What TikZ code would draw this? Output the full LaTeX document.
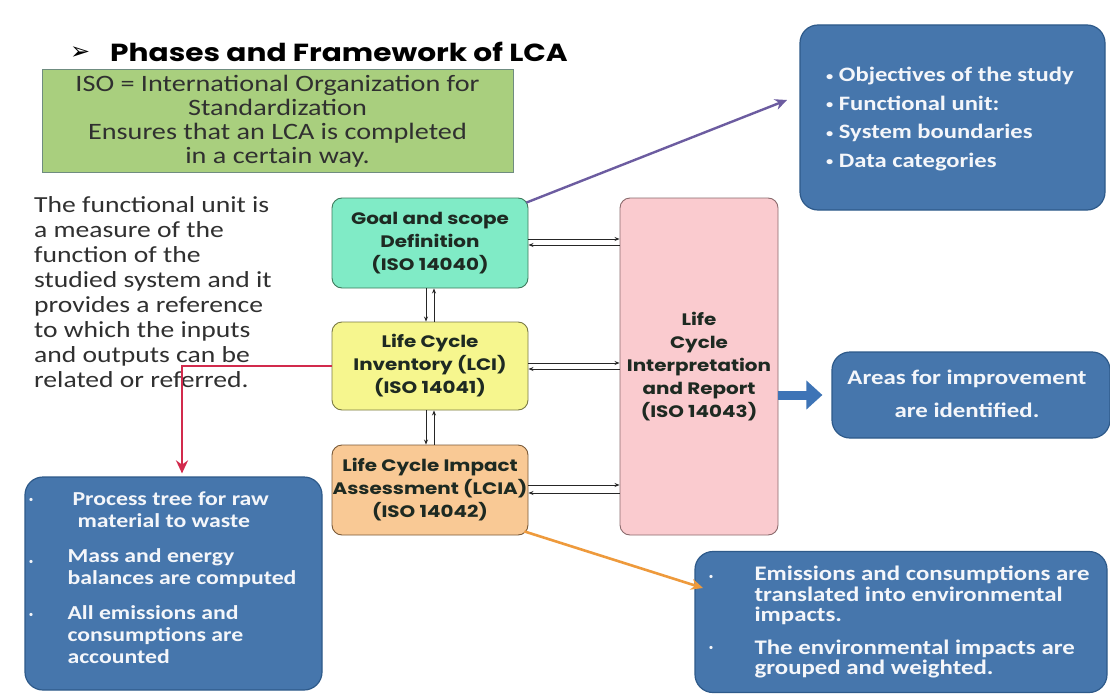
\documentclass[tikz,border=0pt]{standalone}
\usepackage{fontspec}
\setmainfont{Carlito}
\newfontfamily\wide{Carlito}[FakeStretch=1.2]
\newfontfamily\gothic{Poppins}[FakeStretch=1.2]
\newfontfamily\dejavu{DejaVu Sans}
\usetikzlibrary{arrows.meta,calc}
\newcommand\smallbul{{\fontsize{12}{12}\selectfont\raisebox{1.5pt}{•}}}
\definecolor{boxblue}{HTML}{4676AC}
\definecolor{boxblueedge}{HTML}{2E5A8A}
\definecolor{goalfill}{HTML}{80EBC6}
\definecolor{goaledge}{HTML}{3E7A5C}
\definecolor{lcifill}{HTML}{F6F68E}
\definecolor{lciedge}{HTML}{7A7A45}
\definecolor{lciafill}{HTML}{F9C995}
\definecolor{lciaedge}{HTML}{7A5A38}
\definecolor{interpfill}{HTML}{FACBCF}
\definecolor{interpedge}{HTML}{8A6A6C}
\definecolor{isogreen}{HTML}{A9CF7E}
\definecolor{isoedge}{HTML}{6F8C80}
\definecolor{redline}{HTML}{D22A4C}
\definecolor{purpleline}{HTML}{6C5CA0}
\definecolor{orangeline}{HTML}{EE9A3C}
\definecolor{arrowblue}{HTML}{3E74B6}
\definecolor{textwhite}{HTML}{F4F6FA}
\definecolor{textgray}{HTML}{303030}
\definecolor{phasetext}{HTML}{1E2A22}
\begin{document}
\begin{tikzpicture}[x=1pt,y=-1pt,
  phase/.style={rounded corners=10pt, line width=0.9pt, align=center, inner sep=0pt,
    text=phasetext, font=\gothic\bfseries\fontsize{16.6}{23}\selectfont},
  bluebox/.style={draw=boxblueedge, fill=boxblue, rounded corners=18pt, line width=1.2pt, inner sep=0pt},
  bluetext/.style={text=textwhite, align=left, inner sep=0pt},
  flow/.style={draw=black!85, line width=0.8pt, -{Stealth[length=5pt,width=4pt]}},
  bulletdot/.style={text=textwhite, inner sep=0pt, font=\fontsize{9}{9}\selectfont}
]
\useasboundingbox[fill=white] (0,0) rectangle (1110,698);

% title
\node[anchor=west, inner sep=0pt, font=\dejavu\fontsize{24}{24}\selectfont] (tbullet) at (70,53) {➢};
\node[anchor=west, inner sep=0pt, font=\gothic\bfseries\fontsize{24.7}{25}\selectfont] (title) at (110,52) {Phases and Framework of LCA};

% ISO box
\node[draw=isoedge, fill=isogreen, line width=1pt, minimum width=471pt, minimum height=102pt,
  inner sep=0pt, align=center, text=textgray, font=\wide\fontsize{23.5}{24}\selectfont] (iso) at (277.5,121)
  {ISO = International Organization for\\Standardization\\Ensures that an LCA is completed\\in a certain way.};

% functional unit paragraph
\node[anchor=north west, align=left, inner sep=0pt, text=textgray, font=\wide\fontsize{23}{25.1}\selectfont] (fu) at (34,196)
  {The functional unit is\\a measure of the\\function of the\\studied system and it\\provides a reference\\to which the inputs\\and outputs can be\\related or referred.};

% phases
\node[phase, draw=goaledge, fill=goalfill, minimum width=196pt, minimum height=90pt] (goal) at (430,243)
  {Goal and scope\\Definition\\(ISO 14040)};
\node[phase, draw=lciedge, fill=lcifill, minimum width=196pt, minimum height=88pt] (lci) at (430,366)
  {Life Cycle\\Inventory (LCI)\\(ISO 14041)};
\node[phase, draw=lciaedge, fill=lciafill, minimum width=196pt, minimum height=90pt] (lcia) at (430,490)
  {Life Cycle Impact\\Assessment (LCIA)\\(ISO 14042)};
\node[phase, draw=interpedge, fill=interpfill, minimum width=158pt, minimum height=337pt] (interp) at (699,366.5)
  {Life\\Cycle\\Interpretation\\and Report\\(ISO 14043)};

% blue boxes
\node[bluebox, minimum width=305pt, minimum height=185pt] (obj) at (952.5,117.5) {};
\node[bluetext, anchor=west, font=\wide\bfseries\fontsize{20.5}{28.5}\selectfont] (objtext) at (826,119)
  {\smallbul\ Objectives of the study\\\smallbul\ Functional unit:\\\smallbul\ System boundaries\\\smallbul\ Data categories};

\node[bluebox, minimum width=278pt, minimum height=86pt] (areas) at (971,395) {};
\node[bluetext, align=center, font=\wide\bfseries\fontsize{20.7}{33}\selectfont] (areastext) at (967,394)
  {Areas for improvement\\are identified.};

\node[bluebox, minimum width=297pt, minimum height=213pt] (bl) at (173.5,583.5) {};
\node[bluetext, font=\wide\bfseries\fontsize{19.8}{22}\selectfont] (bltext) at (182,578)
  {\hspace*{5pt}Process tree for raw\\\hspace*{10pt}material to waste\\[13pt]Mass and energy\\balances are computed\\[13pt]All emissions and\\consumptions are\\accounted};
\node[bulletdot] (blb1) at (31,500) {•};
\node[bulletdot] (blb2) at (31,562) {•};
\node[bulletdot] (blb3) at (31,615) {•};

\node[bluebox, minimum width=412pt, minimum height=141pt] (br) at (901,622) {};
\node[bluetext, font=\wide\bfseries\fontsize{20.7}{20.5}\selectfont] (brtext) at (922,622)
  {Emissions and consumptions are\\translated into environmental\\impacts.\\[12pt]The environmental impacts are\\grouped and weighted.};
\node[bulletdot] (brb1) at (711,577) {•};
\node[bulletdot] (brb2) at (711,648) {•};

% vertical flows
\draw[flow] ([xshift=-4pt]goal.south) -- ([xshift=-4pt]lci.north);
\draw[flow] ([xshift=4pt]lci.north) -- ([xshift=4pt]goal.south);
\draw[flow] ([xshift=-4pt]lci.south) -- ([xshift=-4pt]lcia.north);
\draw[flow] ([xshift=4pt]lcia.north) -- ([xshift=4pt]lci.south);

% horizontal flows
\coordinate (g1) at ([yshift=4pt]goal.east);
\coordinate (g2) at ([yshift=-2pt]goal.east);
\draw[flow] (g1) -- (g1 -| interp.west);
\draw[flow] (g2 -| interp.west) -- (g2);
\coordinate (l1) at ([yshift=3pt]lci.east);
\coordinate (l2) at ([yshift=-3pt]lci.east);
\draw[flow] (l1) -- (l1 -| interp.west);
\draw[flow] (l2 -| interp.west) -- (l2);
\coordinate (a1) at ([yshift=5pt]lcia.east);
\coordinate (a2) at ([yshift=-3pt]lcia.east);
\draw[flow] (a1) -- (a1 -| interp.west);
\draw[flow] (a2 -| interp.west) -- (a2);

% coloured connectors
\coordinate (objtip) at (787,100);
\draw[purpleline, line width=2.4pt, -{Stealth[length=12pt,width=11pt]}] ([shift={(-2pt,-5pt)}]goal.north east) -- (objtip);
\draw[redline, line width=2.6pt, -{Stealth[length=13pt,width=12pt]}] (lci.west) -| ([xshift=8.5pt,yshift=3pt]bl.north);
\coordinate (imptip) at (703,588);
\draw[orangeline, line width=2.6pt, -{Stealth[length=12pt,width=11pt]}] ([shift={(-4pt,4pt)}]lcia.south east) -- (imptip);
\draw[arrowblue, line width=9pt, shorten >=9pt, -{Triangle[length=16pt,width=28pt]}] (interp.east |- areas.west) -- (areas.west);
\end{tikzpicture}
\end{document}
